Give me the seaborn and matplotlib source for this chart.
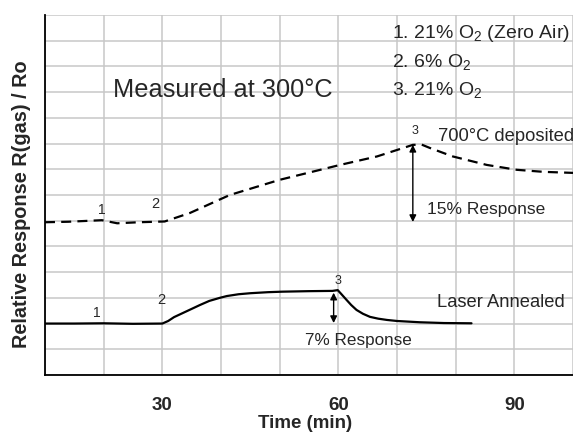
#!/usr/bin/env python3
"""
Relative response of the two sensor films to O2 steps, measured at 300 C.
"""

import matplotlib

matplotlib.use("Agg")

import matplotlib.pyplot as plt
import pandas as pd
import seaborn as sns  # type: ignore
from matplotlib.ticker import MultipleLocator, NullFormatter

# Laser annealed film (solid line)
laser_time = [10, 15, 20, 25, 30, 31, 32, 33.5, 35, 36.4, 38, 39.8, 41, 43, 45,
              48, 50.5, 55, 59, 59.9, 60.5, 61.4, 62.2, 63.1, 64.2, 65.4, 66.8,
              68.3, 70, 73.9, 78, 82.7]
laser_resp = [2.0, 2.0, 2.01, 1.99, 2.0, 2.1, 2.25, 2.41, 2.57, 2.72, 2.88, 3.0,
              3.07, 3.14, 3.18, 3.22, 3.24, 3.26, 3.27, 3.3, 3.15, 2.92, 2.72,
              2.53, 2.38, 2.26, 2.19, 2.14, 2.1, 2.05, 2.02, 2.01]

# 700 C deposited film (dashed line)
dep_time = [10, 14, 19.7, 22.3, 26, 30.4, 34.7, 41.5, 50, 60.3, 66.6, 72.7, 74.2,
            75.6, 79.5, 85.3, 90.4, 95, 100]
dep_resp = [5.94, 5.96, 6.02, 5.9, 5.94, 5.97, 6.3, 7.0, 7.59, 8.17, 8.5, 8.95,
            8.96, 8.83, 8.5, 8.17, 7.98, 7.9, 7.86]

gas_steps = ["1. 21% O$_2$ (Zero Air)", "2. 6% O$_2$", "3. 21% O$_2$"]
x_ticks = [30, 60, 90]

sns.set_style("white")
plt.rcParams["font.family"] = ["Liberation Sans", "DejaVu Sans"]
plt.rcParams["mathtext.fontset"] = "custom"
plt.rcParams["mathtext.rm"] = "Liberation Sans"
plt.rcParams["mathtext.default"] = "regular"

fig = plt.figure(figsize=(5.73, 4.34), dpi=100)
ax = fig.add_axes([0.0785, 0.136, 0.9215, 0.8294])

laser_df = pd.DataFrame({"time": laser_time, "resp": laser_resp})
dep_df = pd.DataFrame({"time": dep_time, "resp": dep_resp})

sns.lineplot(data=laser_df, x="time", y="resp", color="black", lw=1.6,
             sort=False, ax=ax)
sns.lineplot(data=dep_df, x="time", y="resp", color="black", lw=1.6,
             sort=False, ax=ax, linestyle=(0, (4.5, 2.8)))

ax.set_xlim(10, 100)
ax.set_ylim(0, 14)

# grid: every 10 min, every unit of response
ax.xaxis.set_major_locator(plt.FixedLocator(x_ticks))
ax.xaxis.set_minor_locator(MultipleLocator(10))
ax.xaxis.set_minor_formatter(NullFormatter())
ax.yaxis.set_major_locator(MultipleLocator(1))
ax.set_yticklabels([])
ax.grid(True, which="both", color="#c8c8c8", lw=1.1)
ax.set_axisbelow(True)

for side in ["top", "right"]:
    ax.spines[side].set_visible(False)
for side in ["left", "bottom"]:
    ax.spines[side].set_color("black")
    ax.spines[side].set_linewidth(1.3)

ax.tick_params(axis="x", which="major", direction="out", length=9, width=1.2,
               color="black", pad=7, labelsize=13.5)
ax.tick_params(axis="x", which="minor", direction="out", length=4.5, width=1.2,
               color="black")
ax.tick_params(axis="y", which="major", direction="in", length=11, width=1.6,
               color="#909090")
for lbl in ax.get_xticklabels():
    lbl.set_fontweight("bold")

ax.set_xlabel("Time (min)", fontsize=13.5, fontweight="bold")
ax.xaxis.set_label_coords(0.492, -0.112)
ax.set_ylabel("Relative Response R(gas) / Ro", fontsize=14.3, fontweight="bold")
ax.yaxis.set_label_coords(-0.027, 0.475)

# text blocks
ax.text(21.6, 11.08, "Measured at 300°C", fontsize=18.3, va="center")
for label, yy in zip(gas_steps, [13.3, 12.17, 11.08]):
    ax.text(69.1, yy, label, fontsize=14, va="center")
ax.text(77.0, 9.26, "700°C deposited", fontsize=13.2, va="center")
ax.text(75.1, 6.42, "15% Response", fontsize=12.5, va="center")
ax.text(76.8, 2.8, "Laser Annealed", fontsize=13.2, va="center")
ax.text(54.3, 1.36, "7% Response", fontsize=12.3, va="center")

# step markers
for xx, yy, s, fs in [(19.7, 6.42, "1", 10), (28.75, 6.65, "2", 10.5),
                      (18.9, 2.41, "1", 10), (29.9, 2.92, "2", 10.5),
                      (59.9, 3.66, "3", 9), (73.1, 9.49, "3", 9)]:
    ax.text(xx, yy, s, fontsize=fs, ha="center", va="center")

# response arrows
arrow = dict(arrowstyle="<|-|>", color="black", lw=1.0, mutation_scale=10,
             shrinkA=0, shrinkB=0)
ax.annotate("", xy=(72.7, 8.95), xytext=(72.7, 5.95), arrowprops=arrow)
ax.annotate("", xy=(59.2, 3.2), xytext=(59.2, 2.02), arrowprops=arrow)

plt.savefig("out.png", dpi=100)
